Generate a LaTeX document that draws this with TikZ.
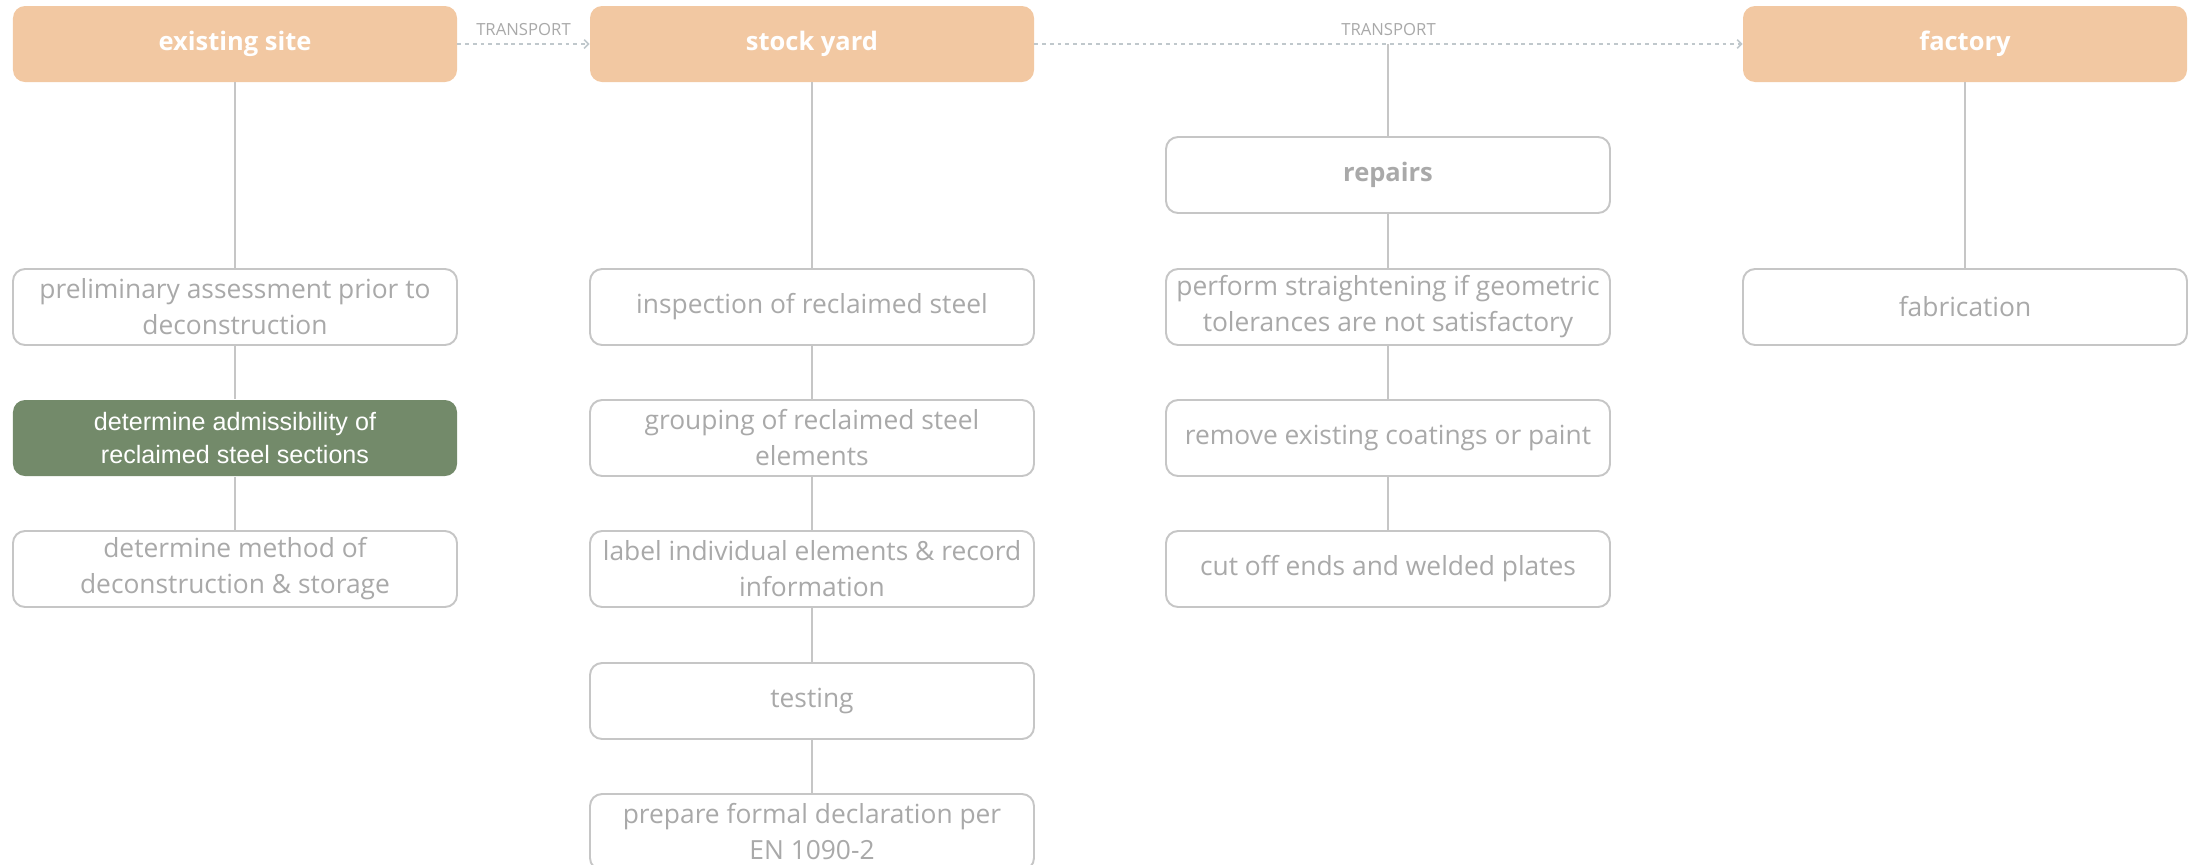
\documentclass[tikz,border=0pt]{standalone}
\usepackage{fontspec}
\setmainfont{Open Sans}
\newfontfamily\helvfont{Liberation Sans}
\usepackage{tikz}
\usetikzlibrary{positioning,arrows.meta}

\definecolor{peach}{HTML}{F2C8A2}
\definecolor{sage}{HTML}{738A6A}
\definecolor{boxgray}{HTML}{C6C6C6}
\definecolor{textgray}{HTML}{A9A9A9}
\definecolor{dashgray}{HTML}{C0C8CC}

\begin{document}
\begin{tikzpicture}[
  stage/.style={rectangle, rounded corners=0.24cm, fill=peach, minimum width=8.88cm, minimum height=1.52cm, text=white, font=\fontsize{14.5}{18}\selectfont\bfseries},
  task/.style={rectangle, rounded corners=0.24cm, draw=boxgray, line width=1.1pt, fill=white, minimum width=8.88cm, minimum height=1.52cm, inner xsep=0pt, align=center, text=textgray, font=\fontsize{15}{20.5}\selectfont},
  keytask/.style={task, draw=none, fill=sage, text=white, font=\helvfont\fontsize{14.3}{18.5}\selectfont},
  link/.style={draw=boxgray, line width=1.1pt},
  transport/.style={draw=dashgray, line width=0.9pt, dash pattern=on 2.2pt off 2.2pt, -{Straight Barb[length=2.5pt,width=5pt]}},
  move/.style={above=1pt, text=textgray, font=\fontsize{9.5}{11}\selectfont}
]
\useasboundingbox (0,0) rectangle (43.76,-17.28);

% Top row
\node[stage] (site) at (4.70,-0.88) {existing site};
\node[stage] (yard) at (16.24,-0.88) {stock yard};
\node[stage] (factory) at (39.30,-0.88) {factory};

% Existing site column
\node[task] (prelim) at (4.70,-6.14) {preliminary assessment prior to\\deconstruction};
\node[keytask] (admiss) at (4.70,-8.76) {determine admissibility of\\reclaimed steel sections};
\node[task] (method) at (4.70,-11.38) {determine method of\\deconstruction \& storage};

% Stock yard column
\node[task] (inspect) at (16.24,-6.14) {inspection of reclaimed steel};
\node[task] (group) at (16.24,-8.76) {grouping of reclaimed steel\\elements};
\node[task] (label) at (16.24,-11.38) {label individual elements \& record\\information};
\node[task] (testing) at (16.24,-14.02) {testing};
\node[task] (declare) at (16.24,-16.64) {prepare formal declaration per\\EN 1090-2};

% Repairs column
\node[task, font=\fontsize{14.5}{18}\selectfont\bfseries] (repairs) at (27.76,-3.50) {repairs};
\node[task] (straight) at (27.76,-6.14) {perform straightening if geometric\\tolerances are not satisfactory};
\node[task] (coat) at (27.76,-8.76) {remove existing coatings or paint};
\node[task] (cutoff) at (27.76,-11.38) {cut off ends and welded plates};

% Factory column
\node[task] (fab) at (39.30,-6.14) {fabrication};

% Transport
\draw[transport] (site) -- node[move] {TRANSPORT} (yard);
\draw[transport] (yard) -- node[move] {TRANSPORT} (factory);
\coordinate (split) at (repairs |- yard.east);

% Links
\draw[link] (site) -- (prelim);
\draw[link] (prelim) -- (admiss);
\draw[link] (admiss) -- (method);
\draw[link] (yard) -- (inspect);
\draw[link] (inspect) -- (group);
\draw[link] (group) -- (label);
\draw[link] (label) -- (testing);
\draw[link] (testing) -- (declare);
\draw[link, line width=0.7pt] (split) -- (repairs);
\draw[link] (repairs) -- (straight);
\draw[link] (straight) -- (coat);
\draw[link] (coat) -- (cutoff);
\draw[link] (factory) -- (fab);

\end{tikzpicture}
\end{document}
